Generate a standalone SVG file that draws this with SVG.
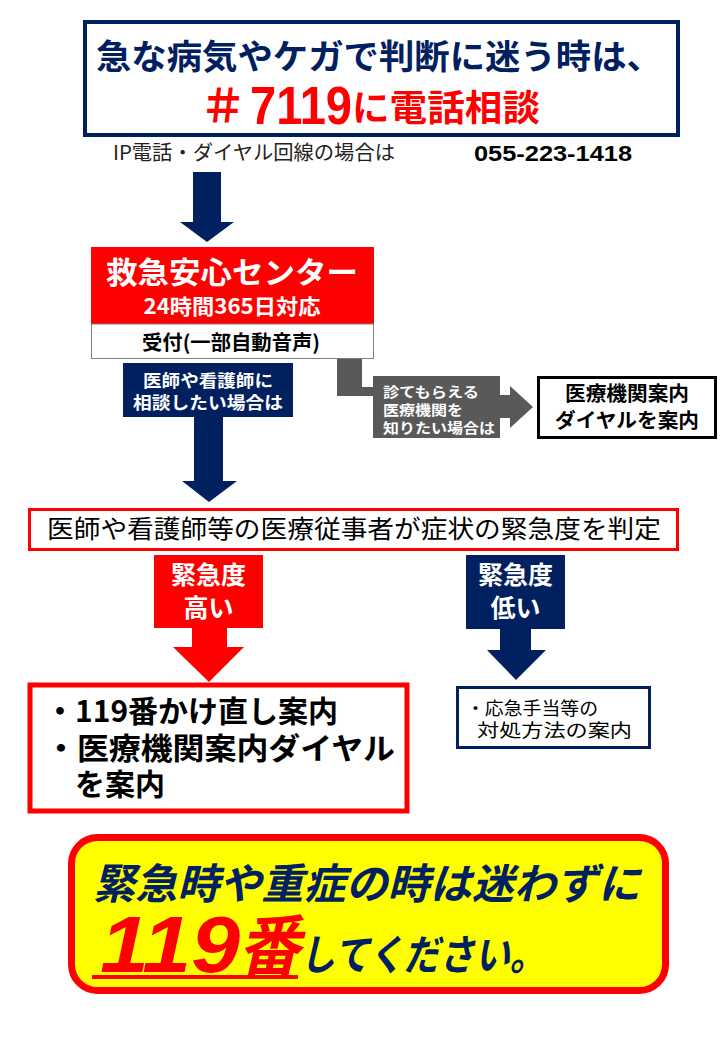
<svg xmlns="http://www.w3.org/2000/svg" width="720" height="1040" viewBox="0 0 720 1040">
<style>
.jp{font-family:"Noto Sans CJK JP","Noto Sans",sans-serif;}
.lat{font-family:"Liberation Sans",Arial,sans-serif;}
.b{font-weight:bold;}
.navy{fill:#002060;}
.red{fill:#FF0000;}
.white{fill:#FFFFFF;}
.blk{fill:#000000;}
.gray{fill:#595959;}
</style>
<rect width="720" height="1040" fill="#FFFFFF"/>

<g id="title">
  <rect x="85" y="22" width="593" height="113" fill="#FFFFFF" stroke="#002060" stroke-width="4"/>
  <text class="jp b navy" x="96" y="69" font-size="34" textLength="566" lengthAdjust="spacingAndGlyphs">急な病気やケガで判断に迷う時は、</text>
  <text class="jp b red" x="200" y="122" font-size="46" textLength="46" lengthAdjust="spacingAndGlyphs">＃</text>
  <text class="lat b red" x="250" y="124" font-size="54" textLength="102" lengthAdjust="spacingAndGlyphs">7119</text>
  <text class="jp b red" x="352" y="121" font-size="36" textLength="188" lengthAdjust="spacingAndGlyphs">に電話相談</text>
</g>

<g id="ip-note">
  <text class="jp" x="113" y="160" font-size="20" fill="#222222" textLength="282" lengthAdjust="spacingAndGlyphs">IP電話・ダイヤル回線の場合は</text>
  <text class="lat b blk" x="474" y="161" font-size="22" textLength="158" lengthAdjust="spacingAndGlyphs">055-223-1418</text>
</g>

<g id="connectors">
  <polygon class="navy" points="193,172 221,172 221,222 234,222 207,242 180,222 193,222"/>
  <polygon class="navy" points="194,417 223,417 223,481 237,481 209,502 182,481 194,481"/>
  <g id="gray-arrow" class="gray">
    <rect x="337" y="358" width="25" height="38"/>
    <rect x="337" y="387" width="37" height="9"/>
    <rect x="499" y="395" width="12" height="23"/>
    <polygon points="510,386 533,407 510,428"/>
  </g>
  <polygon class="red" points="192,628 227,628 227,647 244,647 209,682 173,647 192,647"/>
  <polygon class="navy" points="500,629 531,629 531,650 546,650 516,680 487,650 500,650"/>
</g>

<g id="center">
  <rect x="91" y="247" width="283" height="77" fill="#FF0000"/>
  <text class="jp b white" x="232" y="283" font-size="30" text-anchor="middle" textLength="252" lengthAdjust="spacingAndGlyphs">救急安心センター</text>
  <text class="jp b white" x="232" y="314" font-size="21" text-anchor="middle" textLength="177" lengthAdjust="spacingAndGlyphs">24時間365日対応</text>
</g>

<g id="reception">
  <rect x="91.5" y="324" width="282" height="34.5" fill="#FFFFFF" stroke="#7F7F7F" stroke-width="1"/>
  <text class="jp b blk" x="231" y="350" font-size="20" text-anchor="middle" textLength="178" lengthAdjust="spacingAndGlyphs">受付(一部自動音声)</text>
</g>

<g id="label-doctor">
  <rect x="123" y="363" width="170" height="54" fill="#002060"/>
  <text class="jp b white" x="208" y="387" font-size="17" text-anchor="middle" textLength="130" lengthAdjust="spacingAndGlyphs">医師や看護師に</text>
  <text class="jp b white" x="208" y="409" font-size="17" text-anchor="middle" textLength="150" lengthAdjust="spacingAndGlyphs">相談したい場合は</text>
</g>

<g id="label-hospital">
  <rect x="373" y="376" width="127" height="62" fill="#595959"/>
  <text class="jp b white" x="383" y="397" font-size="14" textLength="96" lengthAdjust="spacingAndGlyphs">診てもらえる</text>
  <text class="jp b white" x="383" y="415" font-size="14" textLength="80" lengthAdjust="spacingAndGlyphs">医療機関を</text>
  <text class="jp b white" x="383" y="433" font-size="14" textLength="112" lengthAdjust="spacingAndGlyphs">知りたい場合は</text>
</g>

<g id="hospital-dial">
  <rect x="538.5" y="377.5" width="177" height="60" fill="#FFFFFF" stroke="#000000" stroke-width="3"/>
  <text class="jp b blk" x="627" y="401" font-size="20" text-anchor="middle" textLength="124" lengthAdjust="spacingAndGlyphs">医療機関案内</text>
  <text class="jp b blk" x="627" y="428" font-size="20" text-anchor="middle" textLength="144" lengthAdjust="spacingAndGlyphs">ダイヤルを案内</text>
</g>

<g id="judge">
  <rect x="29.5" y="509.5" width="648" height="40" fill="#FFFFFF" stroke="#FF0000" stroke-width="3"/>
  <text class="jp blk" x="354" y="538" font-size="25" text-anchor="middle" textLength="614" lengthAdjust="spacingAndGlyphs">医師や看護師等の医療従事者が症状の緊急度を判定</text>
</g>

<g id="label-high">
  <rect x="154" y="555" width="109" height="73" fill="#FF0000"/>
  <text class="jp b white" x="208.5" y="584" font-size="25" text-anchor="middle">緊急度</text>
  <text class="jp b white" x="208.5" y="617" font-size="25" text-anchor="middle">高い</text>
</g>

<g id="label-low">
  <rect x="466" y="555" width="99" height="74" fill="#002060"/>
  <text class="jp b white" x="515.5" y="584" font-size="25" text-anchor="middle">緊急度</text>
  <text class="jp b white" x="515.5" y="617" font-size="25" text-anchor="middle">低い</text>
</g>

<g id="high-result">
  <rect x="30" y="685" width="377" height="126" fill="#FFFFFF" stroke="#FF0000" stroke-width="5"/>
  <text class="jp b blk" x="45" y="722" font-size="30">・119番かけ直し案内</text>
  <text class="jp b blk" x="45" y="759" font-size="30" textLength="350" lengthAdjust="spacingAndGlyphs">・医療機関案内ダイヤル</text>
  <text class="jp b blk" x="75" y="795" font-size="30">を案内</text>
</g>

<g id="low-result">
  <rect x="457.5" y="687.5" width="192" height="60" fill="#FFFFFF" stroke="#002060" stroke-width="3"/>
  <text class="jp blk" x="466" y="715" font-size="18" textLength="132" lengthAdjust="spacingAndGlyphs">・応急手当等の</text>
  <text class="jp blk" x="477" y="737" font-size="18" textLength="155" lengthAdjust="spacingAndGlyphs">対処方法の案内</text>
</g>

<g id="emergency">
  <rect x="71.5" y="837.5" width="594" height="153" rx="26" ry="26" fill="#FFFF00" stroke="#FF0000" stroke-width="7"/>
  <text class="jp b navy" x="93" y="899" font-size="42" font-style="italic" textLength="547" lengthAdjust="spacingAndGlyphs">緊急時や重症の時は迷わずに</text>
  <text class="lat b red" x="100" y="972" font-size="80" font-style="italic" textLength="140" lengthAdjust="spacingAndGlyphs">119</text>
  <text class="jp b red" x="238" y="970" font-size="66" font-style="italic" textLength="62" lengthAdjust="spacingAndGlyphs">番</text>
  <rect x="92" y="975" width="206" height="4" fill="#FF0000"/>
  <text class="jp b navy" x="300" y="970" font-size="42" font-style="italic" textLength="245" lengthAdjust="spacingAndGlyphs">してください。</text>
</g>
</svg>
